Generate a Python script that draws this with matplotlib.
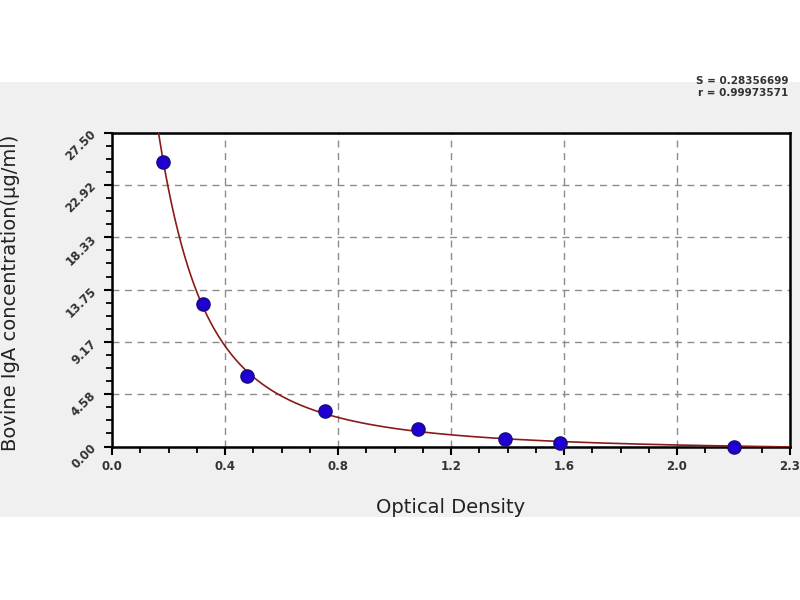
import numpy as np
import matplotlib
matplotlib.use("Agg")
from matplotlib import pyplot as plt
from matplotlib.patches import Rectangle

# standard points
od = [0.182, 0.321, 0.478, 0.753, 1.082, 1.39, 1.586, 2.2]
conc = [24.9, 12.5, 6.2, 3.1, 1.5, 0.65, 0.33, 0.0]

x_ticks = [0.0, 0.4, 0.8, 1.2, 1.6, 2.0, 2.4]
x_labels = ["0.0", "0.4", "0.8", "1.2", "1.6", "2.0", "2.3"]
y_max = 27.5
y_labels = ["0.00", "4.58", "9.17", "13.75", "18.33", "22.92", "27.50"]
fit_text = "S = 0.28356699\nr = 0.99973571"


def fit_4pl(x, y):
    # grid over b and c, linear least squares for a and d
    x = np.asarray(x)
    y = np.asarray(y)
    best = None
    for b in np.linspace(0.5, 6, 120):
        for c in np.logspace(-2.5, 0.5, 200):
            g = 1.0 / (1.0 + (x / c) ** b)
            A = np.column_stack([g, 1 - g])
            coef, res, _, _ = np.linalg.lstsq(A, y, rcond=None)
            err = np.sum((A @ coef - y) ** 2)
            if best is None or err < best[0]:
                best = (err, coef[0], coef[1], b, c)
    return best[1:]


a, d, b, c = fit_4pl(od, conc)
xs = np.linspace(0.12, 2.4, 600)
ys = d + (a - d) / (1.0 + (xs / c) ** b)

fig = plt.figure(figsize=(8, 6), dpi=100)
fig.patch.set_facecolor("white")
fig.patches.append(Rectangle((0, 83 / 600), 1, 435 / 600, transform=fig.transFigure,
                             facecolor="#f0f0f0", edgecolor="none", zorder=-10))

ax = fig.add_axes([0.14, 0.2558, 0.8475, 0.523])
ax.set_facecolor("white")

ax.plot(xs, ys, color="#8b1a1a", lw=1.2, zorder=3)
ax.plot(od, conc, "o", markersize=9.5, markerfacecolor="#2000d0",
        markeredgecolor="#14107a", markeredgewidth=1.0, zorder=4, clip_on=False)

ax.set_xlim(0, 2.4)
ax.set_ylim(0, y_max)
ax.set_xticks(x_ticks)
ax.set_xticklabels(x_labels)
ax.set_xticks(np.arange(0, 2.41, 0.1), minor=True)
y_ticks = np.linspace(0, y_max, 7)
ax.set_yticks(y_ticks)
ax.set_yticklabels(y_labels, rotation=45)
ax.set_yticks(np.linspace(0, y_max, 25), minor=True)

ax.grid(True, which="major", color="#8c8c8c", linestyle=(0, (5, 4)), lw=1.0)
for s in ax.spines.values():
    s.set_linewidth(1.8)
    s.set_color("black")
ax.tick_params(which="major", direction="out", length=6, width=1.5,
               labelsize=8.5, labelcolor="#333333")
ax.tick_params(which="minor", direction="out", length=4, width=1.3)
for lab in ax.get_xticklabels() + ax.get_yticklabels():
    lab.set_fontweight("bold")

ax.set_xlabel("Optical Density", fontsize=14, color="#222222")
ax.set_ylabel("Bovine IgA concentration(\u03bcg/ml)", fontsize=14, color="#222222")
ax.xaxis.set_label_coords(0.5, -0.164)
ax.yaxis.set_label_coords(-0.136, 0.49)

fig.text(0.985, 0.855, fit_text, ha="right", va="center", fontsize=7.5,
         fontweight="bold", color="#333333", linespacing=1.3)

fig.savefig("out.png", dpi=100, facecolor=fig.get_facecolor())
